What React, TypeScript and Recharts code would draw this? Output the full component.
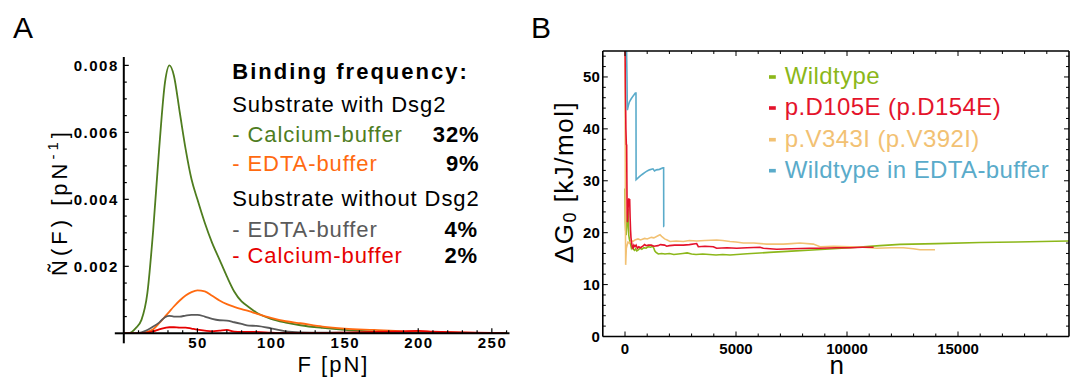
import React from 'react';
import { LineChart, Line, XAxis, YAxis } from 'recharts';

const FONT = '"Liberation Sans", Arial, Helvetica, sans-serif';

// ---- panel A: normalised rupture force distributions ----
const forceGrid = [0, 4, 8, 12, 16, 20, 24, 28, 31, 34, 38, 42, 46, 50, 55, 60, 65, 70, 75, 80, 85, 90, 100, 110, 120, 135, 150, 170, 190, 200, 210, 230, 250, 260];
const calciumWithDsg2 = [0, 0.00001, 0.00015, 0.0004, 0.0012, 0.0031, 0.0055, 0.0075, 0.008, 0.0077, 0.0066, 0.0055, 0.0046, 0.004, 0.0033, 0.0027, 0.0022, 0.0017, 0.00125, 0.00095, 0.00078, 0.00062, 0.00043, 0.00032, 0.00024, 0.00016, 0.0001, 0.00005, 0.00002, 0.00001, 0.00001, 0, 0, 0];
const edtaWithDsg2 = [0, 0, 0, 0.00001, 0.00004, 0.00012, 0.0003, 0.0005, 0.00065, 0.0008, 0.00098, 0.00113, 0.00123, 0.00128, 0.00125, 0.00112, 0.00098, 0.00087, 0.00079, 0.00072, 0.00066, 0.00059, 0.00046, 0.00036, 0.0003, 0.0002, 0.00014, 0.0001, 0.00006, 0.00006, 0.00004, 0.00002, 0.00001, 0];
const edtaWithoutDsg2 = [0, 0, 0, 0.00003, 0.0001, 0.0002, 0.00032, 0.00048, 0.00052, 0.0005, 0.0005, 0.00053, 0.00055, 0.00055, 0.0005, 0.00043, 0.00039, 0.00038, 0.00033, 0.00028, 0.00023, 0.00022, 0.00015, 0.00006, 0.00003, 0.00002, 0.00002, 0.00002, 0.00001, 0.00001, 0.00001, 0.00001, 0, 0];
const calciumWithoutDsg2 = [0, 0, 0, 0, 0.00002, 0.00006, 0.00012, 0.00016, 0.00018, 0.00018, 0.00017, 0.00017, 0.00014, 0.00011, 0.00008, 0.00006, 0.00008, 0.0001, 0.00005, 0.00004, 0.00004, 0.00004, 0.00002, 0.00001, 0.00001, 0.00001, 0.00002, 0.00004, 0.00006, 0.00007, 0.00005, 0.00003, 0.00001, 0];

const forceTicks = [50, 100, 150, 200, 250];
const forceMinorTicks = [10, 20, 30, 40, 60, 70, 80, 90, 110, 120, 130, 140, 160, 170, 180, 190, 210, 220, 230, 240, 260];
const densityTicks = [0.002, 0.004, 0.006, 0.008];
const densityMinorTicks = [0.0005, 0.001, 0.0015, 0.0025, 0.003, 0.0035, 0.0045, 0.005, 0.0055, 0.0065, 0.007, 0.0075];

// ---- panel B: running estimate of the binding free energy ----
const wildtypeN = [0, 5, 15, 30, 50, 80, 110, 135, 150, 170, 200, 230, 260, 290, 330, 380, 430, 480, 530, 600, 680, 760, 850, 950, 1050, 1150, 1250, 1300, 1340, 1400, 1500, 1650, 1800, 2000, 2200, 2400, 2600, 2800, 3000, 3200, 3500, 3800, 4100, 4400, 4730, 5500, 6500, 7500, 8634, 10136, 11486, 12388, 14039, 15991, 17643, 19369, 20000];
const wildtypeG = [28.5, 26, 22, 20.5, 19.5, 21, 23.5, 24.6, 22, 19.5, 18.7, 18.2, 17.6, 17, 17.3, 16.8, 16.6, 16.9, 16.5, 16.7, 17, 16.8, 17.1, 17, 17.3, 17.2, 17.4, 17, 16.5, 16.2, 15.9, 16, 15.9, 16, 15.8, 15.9, 16, 16.1, 15.9, 15.8, 15.9, 15.8, 15.7, 15.8, 15.7, 15.95, 16.2, 16.45, 16.7, 17.1, 17.5, 17.75, 17.9, 18.1, 18.2, 18.35, 18.4];

const d105eN = [0, 20, 40, 60, 75, 85, 95, 110, 130, 150, 170, 190, 210, 230, 250, 270, 300, 330, 360, 400, 450, 500, 560, 620, 700, 800, 885, 950, 1050, 1185, 1300, 1485, 1600, 1785, 1877, 2000, 2235, 2628, 2900, 3228, 3303, 3600, 3979, 4129, 4600, 5030, 5500, 6081, 6231, 6831, 7500, 8334, 8784, 9500, 10136, 10700, 11200];
const d105eG = [60, 48, 40, 37, 36.9, 30, 24, 22, 24, 25.5, 26.6, 26.2, 26.5, 23, 20.5, 19, 18, 17.2, 17, 17.6, 17.3, 17.6, 17, 17.3, 17.1, 17.4, 17.7, 17.5, 17.6, 17.6, 17.4, 17.5, 17.7, 17.6, 17.4, 17.5, 17.6, 17.6, 17.7, 17.9, 17.3, 17.4, 17.3, 17, 17.1, 17, 17.1, 17.2, 17, 16.8, 16.9, 17, 17, 17.1, 17.1, 17.2, 17.2];

const v343iN = [0, 10, 20, 30, 45, 60, 90, 135, 200, 285, 360, 450, 585, 700, 885, 1000, 1185, 1300, 1485, 1577, 1650, 1785, 1900, 2027, 2300, 2628, 2900, 3228, 3600, 4129, 4400, 4730, 5000, 5330, 5800, 6381, 7132, 7500, 7883, 8484, 8784, 9400, 10136, 10700, 11337, 12000, 12538, 12988, 13288, 13964];
const v343iG = [60, 40, 22, 13.8, 15.5, 17, 17.5, 18.2, 18, 18.5, 18.3, 18.6, 18.8, 18.6, 18.9, 18.8, 19.1, 19, 19.4, 19.6, 19.3, 18.8, 18.6, 18.3, 18.4, 18.3, 18.5, 18.4, 18.5, 18.6, 18.5, 18.3, 18.2, 18, 18, 17.8, 17.8, 17.9, 18, 17.8, 17.3, 17.4, 17.3, 17.2, 17, 17.1, 17.1, 16.9, 16.7, 16.7];

const edtaN = [0, 60, 90, 105, 150, 200, 280, 360, 465, 495, 500, 600, 700, 800, 900, 1000, 1100, 1260, 1330, 1410, 1550, 1710, 1740, 1745, 1760];
const edtaG = [62, 58, 50, 43.6, 44.5, 45.2, 45.8, 46.3, 46.9, 46.9, 30.2, 30.6, 31, 31.3, 31.6, 31.9, 32.1, 32.3, 31.9, 32.1, 32.2, 32.5, 32.5, 21.2, 21.2];

const countTicks = [0, 5000, 10000, 15000];
const countMinorTicks = [1000, 2000, 3000, 4000, 6000, 7000, 8000, 9000, 11000, 12000, 13000, 14000, 16000, 17000, 18000, 19000];
const energyTicks = [0, 10, 20, 30, 40, 50];
const energyMinorTicks = [2, 4, 6, 8, 12, 14, 16, 18, 22, 24, 26, 28, 32, 34, 36, 38, 42, 44, 46, 48, 52, 54];

const zipA = (vals: number[]) => forceGrid.map((f, i) => ({ f, v: vals[i] }));
const zip = (ns: number[], gs: number[]) => ns.map((n, i) => ({ n, g: gs[i] }));

const C = {
  aGreen: '#4f7d1f',
  aOrange: '#ff6a10',
  aGray: '#5a5a5a',
  aRed: '#e60000',
  bGreen: '#8cb71a',
  bRed: '#e4132b',
  bOrange: '#f2c173',
  bBlue: '#5aabca',
};

const tickFontA = { fontFamily: FONT, fontSize: 15, fontWeight: 700, letterSpacing: 1.5, fill: '#000' };
const tickFontB = { fontFamily: FONT, fontSize: 15, fontWeight: 700, fill: '#000' };

// ---- tick renderers (Mathematica style: ticks point into the plot) ----
const ATickX = (p: any) => {
  const v = p.payload.value;
  if (v === 0) {
    // short piece of the x axis left of the origin
    return <line x1={p.x - 9} y1={p.y} x2={p.x} y2={p.y} stroke="#000" strokeWidth={2} />;
  }
  const major = forceTicks.includes(v);
  return (
    <g>
      <line x1={p.x} y1={p.y} x2={p.x} y2={p.y - (major ? 5 : 3)} stroke="#000" strokeWidth={1.2} />
      {major && <text x={p.x + 0.7} y={p.y + 14.7} textAnchor="middle" style={tickFontA}>{v}</text>}
    </g>
  );
};
const ATickY = (p: any) => {
  const v = p.payload.value;
  if (v === 0) {
    return <line x1={p.x} y1={p.y} x2={p.x} y2={p.y + 10} stroke="#000" strokeWidth={2} />;
  }
  const major = densityTicks.includes(v);
  return (
    <g>
      <line x1={p.x} y1={p.y} x2={p.x + (major ? 5 : 3)} y2={p.y} stroke="#000" strokeWidth={1.2} />
      {major && <text x={p.x - 5} y={p.y} dy="0.36em" textAnchor="end" style={tickFontA}>{v.toFixed(3)}</text>}
    </g>
  );
};

const BTickBottom = (p: any) => {
  const v = p.payload.value;
  const major = countTicks.includes(v);
  return (
    <g>
      <line x1={p.x} y1={p.y} x2={p.x} y2={p.y - (major ? 5 : 3)} stroke="#000" strokeWidth={1} />
      {major && <text x={p.x} y={p.y + 17.5} textAnchor="middle" style={tickFontB}>{v}</text>}
    </g>
  );
};
const BTickTop = (p: any) => {
  const major = countTicks.includes(p.payload.value);
  return <line x1={p.x} y1={p.y} x2={p.x} y2={p.y + (major ? 5 : 3)} stroke="#000" strokeWidth={1} />;
};
const BTickLeft = (p: any) => {
  const v = p.payload.value;
  const major = energyTicks.includes(v);
  return (
    <g>
      <line x1={p.x} y1={p.y} x2={p.x + (major ? 5 : 3)} y2={p.y} stroke="#000" strokeWidth={1} />
      {major && <text x={p.x - 3} y={p.y} dy="0.36em" textAnchor="end" style={tickFontB}>{v}</text>}
    </g>
  );
};
const BTickRight = (p: any) => {
  const major = energyTicks.includes(p.payload.value);
  return <line x1={p.x} y1={p.y} x2={p.x - (major ? 5 : 3)} y2={p.y} stroke="#000" strokeWidth={1} />;
};

const legendA = [
  { label: '- Calcium-buffer', pct: '32%', color: C.aGreen, y: 141.7, end: 478.5 },
  { label: '- EDTA-buffer', pct: '9%', color: C.aOrange, y: 170.7, end: 478.5 },
  { label: '- EDTA-buffer', pct: '4%', color: C.aGray, y: 237.3, end: 477 },
  { label: '- Calcium-buffer', pct: '2%', color: C.aRed, y: 262.7, end: 477 },
];

const legendB = [
  { label: 'Wildtype', color: C.bGreen },
  { label: 'p.D105E (p.D154E)', color: C.bRed },
  { label: 'p.V343I (p.V392I)', color: C.bOrange },
  { label: 'Wildtype in EDTA-buffer', color: C.bBlue },
];
const legendBBaselines = [84, 115, 146.7, 177.7];

const axisA = { stroke: '#000', strokeWidth: 2 };
const frameB = { stroke: '#000', strokeWidth: 1.6 };

export default function App() {
  const txt = { fontFamily: FONT, fill: '#000' };
  const aLine = (vals: number[], color: string) => (
    <Line xAxisId="fa" yAxisId="da" data={zipA(vals)} dataKey="v" type="monotone" stroke={color} strokeWidth={1.8} dot={false} isAnimationActive={false} />
  );
  return (
    <div style={{ position: 'absolute', left: 0, top: 0, width: 1072, height: 379, background: '#fff', overflow: 'hidden' }}>
      {/* Panel A */}
      <div style={{ position: 'absolute', left: 0, top: 0 }}>
        <LineChart width={530} height={379} margin={{ top: 57, right: 20.5, bottom: 15.7, left: 63.8 }}>
          <XAxis
            xAxisId="fa"
            dataKey="f"
            type="number"
            domain={[0, 262]}
            allowDataOverflow
            ticks={[0, ...forceTicks, ...forceMinorTicks]}
            interval={0}
            stroke="#000"
            axisLine={axisA}
            tickLine={false}
            tickSize={0}
            tickMargin={0}
            height={30}
            tick={ATickX}
          />
          <YAxis
            yAxisId="da"
            type="number"
            domain={[0, 0.00825]}
            allowDataOverflow
            ticks={[0, ...densityTicks, ...densityMinorTicks]}
            interval={0}
            stroke="#000"
            axisLine={axisA}
            tickLine={false}
            tickSize={0}
            tickMargin={0}
            width={60}
            tick={ATickY}
          />
          {aLine(calciumWithDsg2, C.aGreen)}
          {aLine(edtaWithDsg2, C.aOrange)}
          {aLine(edtaWithoutDsg2, C.aGray)}
          {aLine(calciumWithoutDsg2, C.aRed)}
        </LineChart>
      </div>

      {/* Panel B */}
      <div style={{ position: 'absolute', left: 530, top: 0 }}>
        <LineChart width={542} height={379} margin={{ top: 49, right: 1, bottom: 12.5, left: 32.8 }}>
          <XAxis
            xAxisId="bottom"
            dataKey="n"
            type="number"
            domain={[-1000, 20000]}
            allowDataOverflow
            ticks={[...countTicks, ...countMinorTicks]}
            interval={0}
            axisLine={frameB}
            tickLine={false}
            tickSize={0}
            tickMargin={0}
            height={30}
            tick={BTickBottom}
          />
          <XAxis
            xAxisId="top"
            orientation="top"
            dataKey="n"
            type="number"
            domain={[-1000, 20000]}
            allowDataOverflow
            ticks={[...countTicks, ...countMinorTicks]}
            interval={0}
            axisLine={frameB}
            tickLine={false}
            tickSize={0}
            tickMargin={0}
            height={2}
            tick={BTickTop}
          />
          <YAxis
            yAxisId="left"
            type="number"
            domain={[0, 55]}
            allowDataOverflow
            ticks={[...energyTicks, ...energyMinorTicks]}
            interval={0}
            axisLine={frameB}
            tickLine={false}
            tickSize={0}
            tickMargin={0}
            width={40}
            tick={BTickLeft}
          />
          <YAxis
            yAxisId="right"
            orientation="right"
            type="number"
            domain={[0, 55]}
            allowDataOverflow
            ticks={[...energyTicks, ...energyMinorTicks]}
            interval={0}
            axisLine={frameB}
            tickLine={false}
            tickSize={0}
            tickMargin={0}
            width={2}
            tick={BTickRight}
          />
          <Line xAxisId="bottom" yAxisId="left" data={zip(wildtypeN, wildtypeG)} dataKey="g" type="linear" stroke={C.bGreen} strokeWidth={1.6} dot={false} isAnimationActive={false} />
          <Line xAxisId="bottom" yAxisId="left" data={zip(v343iN, v343iG)} dataKey="g" type="linear" stroke={C.bOrange} strokeWidth={1.6} dot={false} isAnimationActive={false} />
          <Line xAxisId="bottom" yAxisId="left" data={zip(d105eN, d105eG)} dataKey="g" type="linear" stroke={C.bRed} strokeWidth={1.6} dot={false} isAnimationActive={false} />
          <Line xAxisId="bottom" yAxisId="left" data={zip(edtaN, edtaG)} dataKey="g" type="linear" stroke={C.bBlue} strokeWidth={1.6} dot={false} isAnimationActive={false} />
        </LineChart>
      </div>

      {/* annotations */}
      <svg width={1072} height={379} style={{ position: 'absolute', left: 0, top: 0, pointerEvents: 'none' }}>
        <text x={13} y={38.3} style={{ ...txt, fontSize: 30 }}>A</text>
        <text x={531} y={38.3} style={{ ...txt, fontSize: 30 }}>B</text>

        <text x={333.5} y={372} textAnchor="middle" style={{ ...txt, fontSize: 22, letterSpacing: 2 }}>F [pN]</text>
        <text transform="translate(67.3,202) rotate(-90)" textAnchor="middle" style={{ ...txt, fontSize: 22, letterSpacing: 4 }}>
          Ñ(F)  [pN<tspan dy={-9} fontSize={15}>-1</tspan><tspan dy={9}>]</tspan>
        </text>

        <text x={836.7} y={374} textAnchor="middle" style={{ ...txt, fontSize: 26 }}>n</text>
        <text transform="translate(573.3,182) rotate(-90)" textAnchor="middle" style={{ ...txt, fontSize: 26, letterSpacing: 1.5 }}>
          ΔG<tspan dy={3} fontSize={18}>0</tspan><tspan dy={-3}>  [kJ/mol]</tspan>
        </text>

        <text x={232.3} y={79.3} style={{ ...txt, fontSize: 22, fontWeight: 700, letterSpacing: 2 }}>Binding frequency:</text>
        <text x={232.3} y={111.7} style={{ ...txt, fontSize: 22, letterSpacing: 0.9 }}>Substrate with Dsg2</text>
        <text x={232.3} y={206} style={{ ...txt, fontSize: 22, letterSpacing: 0.9 }}>Substrate without Dsg2</text>
        {legendA.map((r, i) => (
          <g key={'la' + i}>
            <text x={232.3} y={r.y} style={{ ...txt, fontSize: 22, letterSpacing: 0.9, fill: r.color }}>{r.label}</text>
            <text x={r.end + 0.8} y={r.y} textAnchor="end" style={{ ...txt, fontSize: 22, fontWeight: 700, letterSpacing: 0.8 }}>{r.pct}</text>
          </g>
        ))}

        {legendB.map((r, i) => (
          <g key={'lb' + i}>
            <rect x={769} y={legendBBaselines[i] - 8.8} width={6.8} height={3.6} fill={r.color} />
            <text x={784.8} y={legendBBaselines[i]} style={{ ...txt, fontSize: 24, letterSpacing: 0.4, fill: r.color }}>{r.label}</text>
          </g>
        ))}
      </svg>
    </div>
  );
}
